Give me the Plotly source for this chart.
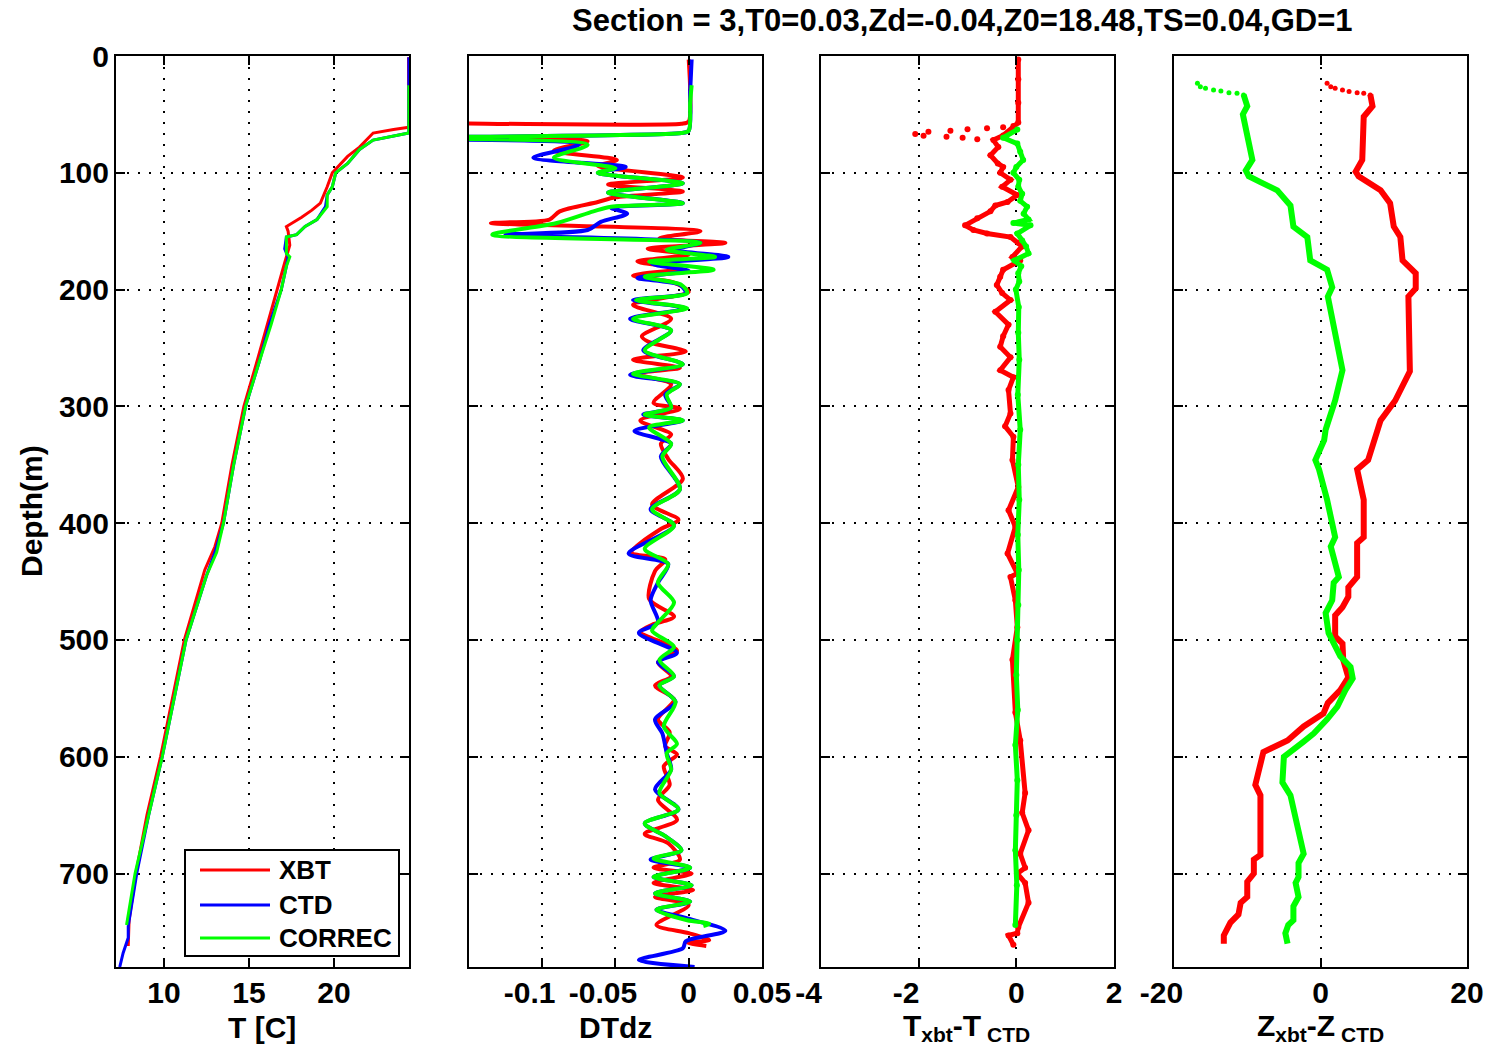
import plotly.graph_objects as go

# ---------------- data ----------------
# Panel 1: temperature profiles
depth_T_xbt = [1, 30, 61, 63, 66, 78, 86, 100, 112, 126, 132, 138, 146, 150, 162, 177, 198, 230, 260, 300, 350,
               400, 420, 440, 500, 550, 600, 650, 700, 740, 762]
T_xbt = [24.38, 24.40, 24.40, 23.5, 22.3, 21.5, 20.8, 19.9, 19.6, 19.2, 18.7, 18.1, 17.2, 17.3, 17.4, 17.1, 16.7,
         16.1, 15.5, 14.7, 14.0, 13.4, 13.0, 12.4, 11.2, 10.5, 9.8, 9.0, 8.35, 7.95, 7.9]

depth_T_ctd = [1, 30, 66, 72, 80, 92, 100, 112, 119, 129, 140, 146, 153, 155, 165, 172, 180, 200, 230, 262, 300,
               350, 400, 425, 445, 500, 550, 600, 650, 700, 745, 755, 768, 780]
T_ctd = [24.40, 24.40, 24.40, 22.3, 21.5, 20.8, 20.1, 19.9, 19.6, 19.5, 19.0, 18.3, 17.8, 17.2, 17.1, 17.3, 17.2,
         16.9, 16.2, 15.6, 14.8, 14.1, 13.5, 13.0, 12.5, 11.3, 10.6, 9.9, 9.1, 8.4, 7.9, 7.9, 7.6, 7.4]

depth_T_cor = [25, 40, 66, 72, 80, 92, 100, 112, 119, 129, 140, 146, 153, 155, 169, 172, 180, 200, 230, 262, 300,
               350, 400, 425, 445, 500, 550, 600, 650, 700, 744]
T_cor = [24.40, 24.40, 24.40, 22.3, 21.5, 20.8, 20.1, 19.9, 19.6, 19.6, 19.0, 18.3, 17.8, 17.2, 17.2, 17.4, 17.2,
         16.9, 16.3, 15.6, 14.8, 14.1, 13.5, 13.1, 12.5, 11.3, 10.6, 9.9, 9.1, 8.3, 7.8]

# Panel 2: DTdz
depth_dt_xbt = [3, 30, 56, 58, 62, 67, 73, 81, 89, 94, 104, 110, 116, 121, 125, 133, 140, 143, 150, 156, 160, 165,
                170, 176, 182, 188, 194, 202, 213, 225, 240, 245, 253, 260, 267, 272, 281, 297, 302, 312, 324, 332,
                345, 362, 384, 397, 405, 425, 431, 441, 465, 480, 487, 493, 509, 519, 531, 539, 551, 568, 579, 591,
                598, 608, 624, 637, 654, 666, 674, 688, 695, 700, 708, 714, 720, 727, 744, 751, 757, 759, 762]
dt_xbt = [0.000, 0.001, 0.000, -0.005, -0.4, -0.4, -0.069, -0.092, -0.049, -0.062, -0.004, -0.055, -0.004, -0.05,
          -0.062, -0.088, -0.095, -0.135, 0.008, -0.02, 0.025, -0.028, 0.0, -0.035, -0.005, -0.038, -0.01, 0.0,
          -0.038, -0.012, -0.032, -0.027, -0.002, -0.038, -0.006, -0.036, -0.012, -0.024, -0.006, -0.033, -0.012,
          -0.019, -0.014, -0.004, -0.025, -0.007, -0.019, -0.039, -0.016, -0.023, -0.027, -0.010, -0.025, -0.033,
          -0.008, -0.021, -0.012, -0.023, -0.010, -0.021, -0.013, -0.016, -0.008, -0.017, -0.013, -0.021, -0.008,
          -0.030, -0.014, -0.006, -0.024, 0.002, -0.024, 0.003, -0.023, 0.0, -0.022, 0.0, 0.014, -0.001, 0.012]

depth_dt_ctd = [3, 30, 64, 66, 71, 76, 87, 95, 100, 109, 117, 126, 130, 135, 142, 149, 153, 160, 166, 172, 178,
                184, 190, 196, 203, 209, 216, 225, 235, 252, 264, 273, 281, 290, 301, 307, 312, 321, 332, 343, 371,
                388, 402, 426, 435, 451, 466, 485, 494, 511, 519, 531, 539, 553, 568, 580, 597, 611, 628, 645, 657,
                668, 680, 688, 695, 703, 710, 717, 724, 731, 738, 749, 758, 764, 774, 780]
dt_ctd = [0.002, 0.001, 0.000, -0.005, -0.4, -0.075, -0.106, -0.043, -0.062, -0.004, -0.055, -0.004, -0.053,
          -0.042, -0.06, -0.069, -0.125, 0.008, -0.01, 0.027, -0.025, 0.0, -0.035, -0.006, -0.002, -0.038, -0.002,
          -0.040, -0.012, -0.031, -0.004, -0.040, -0.006, -0.016, -0.012, -0.031, -0.004, -0.037, -0.012, -0.019,
          -0.006, -0.026, -0.010, -0.041, -0.014, -0.021, -0.026, -0.021, -0.034, -0.008, -0.021, -0.010, -0.020,
          -0.009, -0.023, -0.018, -0.015, -0.012, -0.023, -0.007, -0.030, -0.016, -0.005, -0.026, 0.001, -0.024,
          0.002, -0.023, 0.001, -0.022, -0.002, 0.025, -0.002, -0.004, -0.034, 0.004]

depth_dt_cor = [25, 40, 64, 66, 71, 76, 87, 96, 100, 109, 117, 126, 129, 133, 143, 153, 160, 166, 172, 176, 183,
                189, 196, 203, 209, 216, 225, 235, 252, 264, 272, 281, 290, 301, 307, 312, 318, 332, 343, 371, 388,
                402, 422, 435, 451, 468, 485, 492, 506, 517, 531, 539, 553, 574, 589, 597, 611, 631, 645, 657, 668,
                680, 687, 695, 703, 710, 717, 724, 731, 740, 743, 745]
dt_cor = [0.002, 0.001, 0.0, -0.005, -0.4, -0.069, -0.092, -0.05, -0.062, -0.004, -0.055, -0.004, -0.053, -0.065,
          -0.09, -0.134, 0.008, -0.015, 0.018, -0.027, 0.017, -0.03, -0.005, -0.001, -0.036, -0.001, -0.038, -0.012,
          -0.030, -0.004, -0.038, -0.006, -0.015, -0.012, -0.030, -0.004, -0.027, -0.012, -0.018, -0.006, -0.025,
          -0.010, -0.030, -0.014, -0.021, -0.010, -0.021, -0.025, -0.010, -0.020, -0.010, -0.020, -0.009, -0.017,
          -0.008, -0.015, -0.012, -0.020, -0.007, -0.030, -0.016, -0.005, -0.024, 0.001, -0.024, 0.002, -0.023,
          0.001, -0.022, -0.001, 0.014, 0.010]

# Panel 3: Txbt - Tctd
depth_dT_xbt = [3, 20, 40, 57, 68, 72, 78, 85, 92, 95, 100, 106, 112, 119, 125, 128, 133, 139, 145, 149, 152, 155,
                160, 163, 172, 175, 183, 189, 196, 203, 209, 219, 230, 240, 249, 258, 269, 275, 286, 306, 317, 326,
                346, 369, 389, 403, 426, 443, 446, 466, 489, 517, 562, 586, 631, 648, 663, 683, 695, 700, 708, 725,
                746, 751, 753, 761]
dT_xbt = [0.04, 0.04, 0.04, 0.04, -0.27, -0.47, -0.37, -0.53, -0.38, -0.27, -0.33, -0.12, -0.29, 0.02, -0.18,
          -0.43, -0.53, -0.80, -1.05, -0.88, -0.6, -0.12, 0.04, 0.12, -0.08, 0.08, -0.27, -0.33, -0.4, -0.29,
          -0.12, -0.43, -0.16, -0.27, -0.33, -0.12, -0.33, -0.06, -0.16, -0.12, -0.23, -0.06, -0.08, 0.04, -0.16,
          -0.02, -0.18, 0.02, -0.12, -0.02, 0.02, -0.08, -0.02, 0.08, 0.18, 0.12, 0.25, 0.08, 0.18, 0.02, 0.18,
          0.25, 0.04, 0.02, -0.16, -0.06]
depth_dT_xbt_scatter = [66.8, 68.2, 64.8, 69.1, 63.9, 69.9, 62.8, 71.3, 61.9, 61.1, 59.9]
dT_xbt_scatter = [-2.07, -1.9, -1.8, -1.43, -1.35, -1.1, -1.0, -0.8, -0.6, -0.27, -0.06]

depth_dT_cor = [63, 70, 75, 82, 89, 95, 100, 106, 112, 118, 124, 129, 135, 140, 143, 145, 152, 158, 163, 169, 175,
                180, 186, 193, 200, 215, 237, 260, 290, 320, 350, 380, 410, 440, 470, 500, 530, 560, 590, 620, 650,
                680, 710, 744]
dT_cor = [0.02, -0.27, 0.02, 0.08, 0.14, 0.0, -0.06, 0.06, 0.04, 0.12, 0.08, 0.22, 0.15, 0.25, -0.06, 0.29, 0.02,
          0.12, 0.2, 0.25, -0.04, 0.1, 0.04, 0.06, -0.01, 0.05, 0.04, 0.06, 0.03, 0.08, 0.04, 0.06, 0.03, 0.05,
          0.04, 0.02, 0.0, 0.03, -0.02, 0.02, 0.0, -0.02, 0.01, -0.02]

# Panel 4: Zxbt - Zctd
depth_dZ_xbt_top = [23.4, 26.3, 27.7, 29.1, 30.5, 31.4, 32.0, 33.4]
dZ_xbt_top = [0.9, 1.4, 2.0, 3.0, 3.9, 5.0, 5.9, 6.8]
depth_dZ_xbt = [33, 43, 52, 89, 99, 103, 115, 126, 146, 155, 175, 186, 199, 206, 270, 295, 312, 346, 354, 372, 380,
                412, 417, 446, 455, 463, 472, 479, 497, 503, 517, 532, 543, 554, 563, 574, 586, 596, 605, 624, 633,
                684, 688, 700, 707, 720, 725, 735, 742, 753, 760]
dZ_xbt = [6.8, 7.1, 5.9, 5.7, 4.8, 5.2, 8.2, 9.5, 10.0, 10.9, 11.2, 13.0, 13.0, 12.0, 12.2, 10.2, 8.2, 6.5, 5.0,
          5.7, 5.9, 5.9, 5.0, 5.0, 3.8, 3.8, 3.0, 2.0, 2.0, 3.0, 3.1, 3.8, 2.7, 1.0, 0.4, -2.3, -4.5, -7.8, -8.2,
          -8.9, -8.2, -8.2, -9.1, -9.1, -10.0, -10.0, -10.9, -11.2, -12.3, -13.2, -13.2]

depth_dZ_cor_top = [23.4, 26.3, 27.7, 29.1, 30.0, 31.4, 32.0, 33.4]
dZ_cor_top = [-16.8, -16.4, -15.7, -14.6, -13.6, -12.5, -11.4, -10.5]
depth_dZ_cor = [33, 43, 50, 89, 98, 103, 108, 115, 128, 146, 155, 175, 183, 198, 206, 269, 295, 320, 329, 346, 354,
                380, 412, 420, 446, 451, 466, 477, 494, 514, 523, 533, 543, 557, 568, 580, 587, 600, 622, 633, 683,
                691, 703, 708, 720, 728, 740, 744, 751, 760]
dZ_cor = [-10.5, -10.0, -10.6, -9.3, -10.2, -9.8, -8.2, -5.9, -4.1, -3.7, -1.8, -1.4, 0.9, 1.6, 1.0, 3.0, 2.0, 0.7,
          0.5, -0.7, -0.2, 0.9, 2.0, 1.4, 2.5, 1.8, 1.6, 0.7, 1.1, 2.7, 4.1, 4.4, 3.4, 2.3, 0.9, -0.9, -2.3, -5.0,
          -5.2, -4.1, -2.3, -3.0, -3.0, -3.4, -3.0, -3.7, -3.7, -4.4, -4.8, -4.5]

depth_ticks = [0, 100, 200, 300, 400, 500, 600, 700]
T_ticks = [10, 15, 20]
dt_ticks = [-0.1, -0.05, 0, 0.05]
dt_ticklabels = ["-0.1", "-0.05", "0", "0.05"]
dT_ticks = [-4, -2, 0, 2]
dT_ticklabels = ["-4", "-2", "0", "2"]
dZ_ticks = [-20, 0, 20]
dZ_ticklabels = ["-20", "0", "20"]
legend_names = ["XBT", "CTD", "CORREC"]
title_text = "Section = 3,T0=0.03,Zd=-0.04,Z0=18.48,TS=0.04,GD=1"

# ---------------- styling ----------------
RED, BLUE, GREEN = "#ff0000", "#0000ff", "#00ff00"
COLORS = [RED, BLUE, GREEN]
FONT = "Liberation Sans, Arial, Helvetica, sans-serif"
W, H = 1491, 1050
NEG_PAD = "\u00a0\u00a0\u00a0"  # MATLAB draws negative tick labels slightly left of the tick


def tick_text(labels):
    return [s + NEG_PAD if s.startswith("-") else s for s in labels]


fig = go.Figure()

# Panel 1
for xs, ys, c, n in [(T_xbt, depth_T_xbt, RED, legend_names[0]), (T_ctd, depth_T_ctd, BLUE, legend_names[1]),
                     (T_cor, depth_T_cor, GREEN, legend_names[2])]:
    fig.add_trace(go.Scatter(x=xs, y=ys, mode="lines", line=dict(color=c, width=3), name=n,
                             showlegend=False, xaxis="x", yaxis="y"))

# Panel 2
sp = dict(shape="spline", smoothing=0.8)
for xs, ys, c in [(dt_xbt, depth_dt_xbt, RED), (dt_ctd, depth_dt_ctd, BLUE), (dt_cor, depth_dt_cor, GREEN)]:
    fig.add_trace(go.Scatter(x=xs, y=ys, mode="lines", line=dict(color=c, width=4, **sp),
                             showlegend=False, xaxis="x2", yaxis="y2"))

# Panel 3
fig.add_trace(go.Scatter(x=dT_xbt, y=depth_dT_xbt, mode="lines+markers", line=dict(color=RED, width=5),
                         marker=dict(color=RED, size=6), showlegend=False, xaxis="x3", yaxis="y3"))
fig.add_trace(go.Scatter(x=dT_xbt_scatter, y=depth_dT_xbt_scatter, mode="markers",
                         marker=dict(color=RED, size=6), showlegend=False, xaxis="x3", yaxis="y3"))
fig.add_trace(go.Scatter(x=dT_cor, y=depth_dT_cor, mode="lines+markers", line=dict(color=GREEN, width=5),
                         marker=dict(color=GREEN, size=6), showlegend=False, xaxis="x3", yaxis="y3"))

# Panel 4
fig.add_trace(go.Scatter(x=dZ_xbt_top, y=depth_dZ_xbt_top, mode="markers", marker=dict(color=RED, size=5),
                         showlegend=False, xaxis="x4", yaxis="y4"))
fig.add_trace(go.Scatter(x=dZ_xbt, y=depth_dZ_xbt, mode="lines", line=dict(color=RED, width=6),
                         showlegend=False, xaxis="x4", yaxis="y4"))
fig.add_trace(go.Scatter(x=dZ_cor_top, y=depth_dZ_cor_top, mode="markers", marker=dict(color=GREEN, size=5),
                         showlegend=False, xaxis="x4", yaxis="y4"))
fig.add_trace(go.Scatter(x=dZ_cor, y=depth_dZ_cor, mode="lines", line=dict(color=GREEN, width=6),
                         showlegend=False, xaxis="x4", yaxis="y4"))


def axstyle(**kw):
    d = dict(showline=True, linecolor="black", linewidth=2, mirror="ticks", ticks="inside", ticklen=9,
             tickwidth=2, tickcolor="black", showgrid=True, gridcolor="black", gridwidth=2,
             griddash="2px,9px", zeroline=False, automargin=False, tickangle=0,
             tickfont=dict(family=FONT, size=30, color="black", weight="bold"))
    d.update(kw)
    return d


px_x = lambda a, b: [a / W, b / W]
ydom = [1 - 967 / H, 1 - 56 / H]

layout = dict(
    width=W, height=H, margin=dict(l=0, r=0, t=0, b=0, pad=0, autoexpand=False),
    paper_bgcolor="white", plot_bgcolor="white", showlegend=False,
    xaxis=axstyle(domain=px_x(116, 409), range=[7.18, 24.41], tickvals=T_ticks, anchor="y",
                  ticklabelstandoff=-2),
    xaxis2=axstyle(domain=px_x(469, 762), range=[-0.1499, 0.05], tickvals=dt_ticks,
                   ticktext=tick_text(dt_ticklabels), anchor="y2", ticklabelstandoff=-2),
    xaxis3=axstyle(domain=px_x(821, 1114), range=[-4, 2], tickvals=dT_ticks, ticktext=tick_text(dT_ticklabels),
                   anchor="y3", ticklabelstandoff=-2),
    xaxis4=axstyle(domain=px_x(1174, 1467), range=[-20, 20], tickvals=dZ_ticks,
                   ticktext=tick_text(dZ_ticklabels), anchor="y4", ticklabelstandoff=-2),
    yaxis=axstyle(domain=ydom, range=[780, 0], tickvals=depth_ticks, anchor="x", ticklabelstandoff=-1),
    yaxis2=axstyle(domain=ydom, range=[780, 0], tickvals=depth_ticks, anchor="x2", showticklabels=False),
    yaxis3=axstyle(domain=ydom, range=[780, 0], tickvals=depth_ticks, anchor="x3", showticklabels=False),
    yaxis4=axstyle(domain=ydom, range=[780, 0], tickvals=depth_ticks, anchor="x4", showticklabels=False),
)
fig.update_layout(**layout)


def pfont(size):
    return dict(family=FONT, size=size, color="black", weight="bold")


annots = [
    dict(text=title_text, x=962 / W, y=1 - 20 / H, font=pfont(31), xanchor="center", yanchor="middle"),
    dict(text="Depth(m)", x=31 / W, y=1 - 511 / H, textangle=-90, font=pfont(30),
         xanchor="center", yanchor="middle"),
    dict(text="T [C]", x=262 / W, y=1 - 1027 / H, font=pfont(30), xanchor="center", yanchor="middle"),
    dict(text="DTdz", x=615 / W, y=1 - 1027 / H, font=pfont(30), xanchor="center", yanchor="middle"),
    dict(text="T<sub>xbt</sub>-T<sub> CTD</sub>", x=967 / W, y=1 - 1027 / H, font=pfont(30),
         xanchor="center", yanchor="middle"),
    dict(text="Z<sub>xbt</sub>-Z<sub> CTD</sub>", x=1320 / W, y=1 - 1027 / H, font=pfont(30),
         xanchor="center", yanchor="middle"),
]

# Legend box (MATLAB-style) drawn in paper coordinates
shapes = [dict(type="rect", xref="paper", yref="paper", x0=185 / W, x1=399 / W, y0=1 - 956 / H, y1=1 - 850 / H,
               line=dict(color="black", width=2), fillcolor="white", layer="above")]
legend_rows = [870, 905, 938]
for name, col, yy in zip(legend_names, COLORS, legend_rows):
    shapes.append(dict(type="line", xref="paper", yref="paper", x0=200 / W, x1=270 / W,
                       y0=1 - yy / H, y1=1 - yy / H, line=dict(color=col, width=3), layer="above"))
    annots.append(dict(text=name, x=277 / W, y=1 - yy / H, font=pfont(26), xanchor="left", yanchor="middle"))

for a in annots:
    a.update(xref="paper", yref="paper", showarrow=False)

fig.update_layout(annotations=annots, shapes=shapes)

fig.write_html("out.html")
